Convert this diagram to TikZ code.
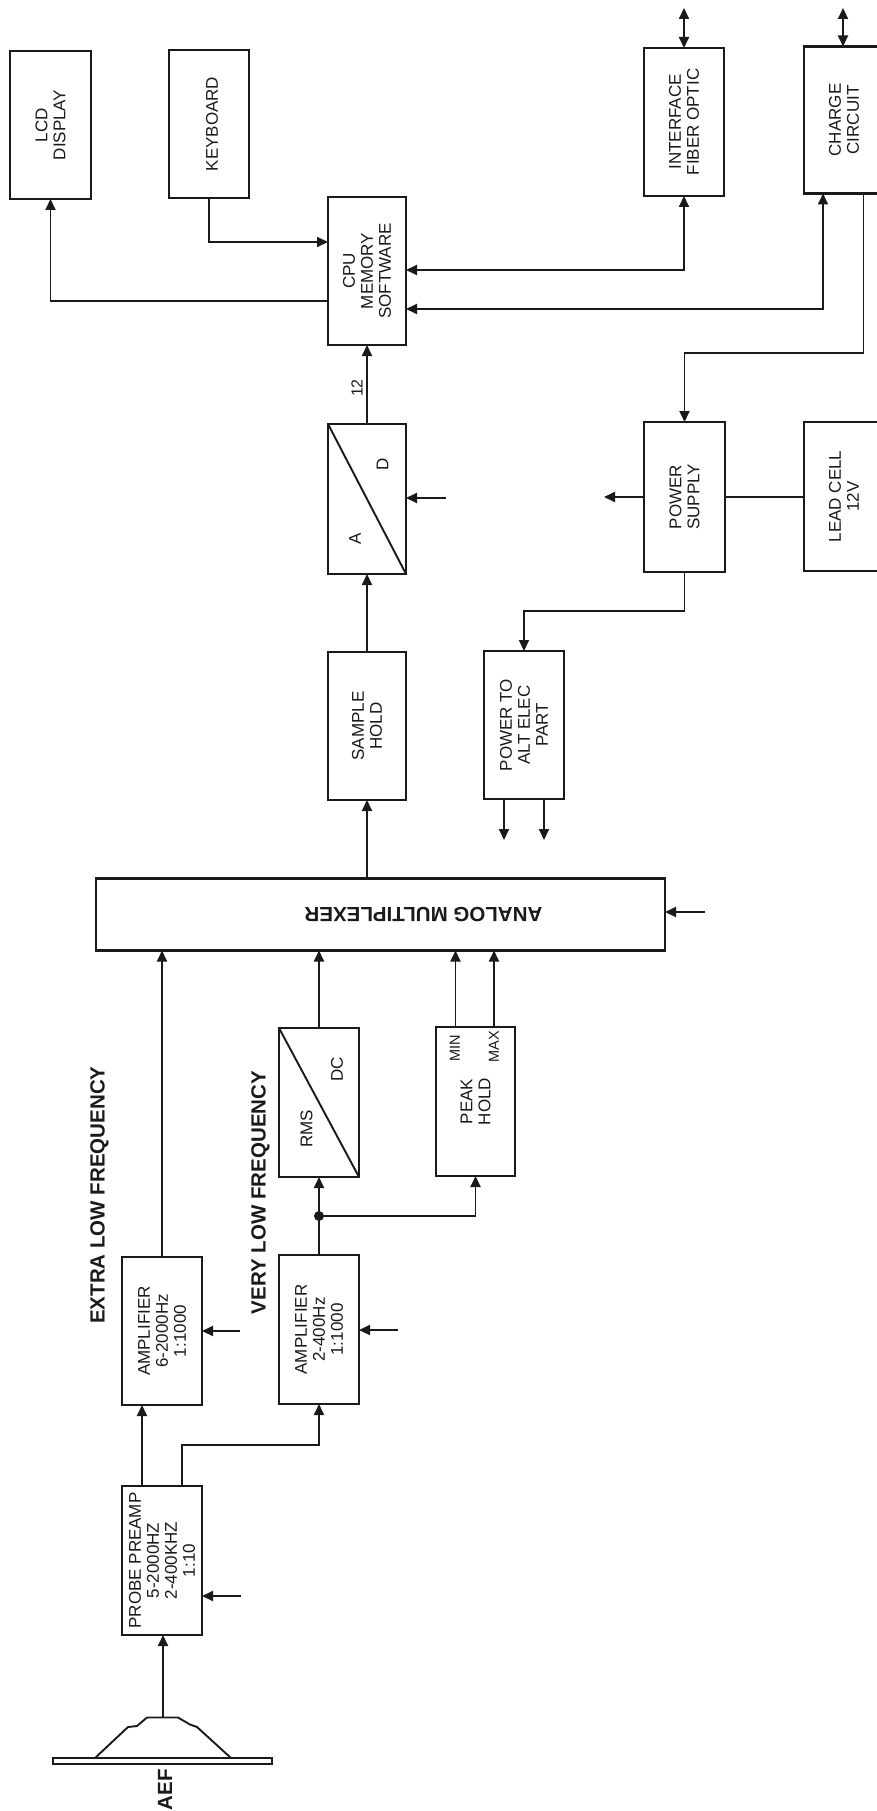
\documentclass[tikz,border=0pt]{standalone}
\usepackage{fontspec}
\setmainfont{Liberation Sans}
\usetikzlibrary{arrows.meta}
\definecolor{ink}{HTML}{1A1A1A}
\tikzset{
  x=1pt, y=-1pt,
  txt/.style={text=ink, font=\fontsize{17}{18}\selectfont, inner sep=0pt, outer sep=0pt, align=center},
  vbox/.style 2 args={txt, draw=ink, line width=2.2pt, rotate=90, minimum width=#2, minimum height=#1,
    execute at begin node={\rule{0pt}{18pt}}},
  lbl/.style={txt, rotate=90},
  boldlbl/.style={txt, rotate=90, font=\fontsize{20.5}{22}\bfseries\selectfont},
  conn/.style={draw=ink, line width=1.9pt},
  arr/.style={conn, -{Triangle[width=10pt,length=11pt]}},
  biarr/.style={conn, {Triangle[width=10pt,length=11pt]}-{Triangle[width=10pt,length=11pt]}},
  jdot/.style={circle, fill=ink, inner sep=0pt, minimum size=10pt},
}
\begin{document}
\begin{tikzpicture}
\clip (0,0) rectangle (877,1811);
\fill[white] (0,0) rectangle (877,1811);

% blocks (rotated 90: north=page left, south=page right, east=page top, west=page bottom)
\node[vbox={81}{148}] (lcd) at (50.5,125) {LCD\\DISPLAY};
\node[vbox={80}{148}] (keyboard) at (209,124) {KEYBOARD};
\node[vbox={78}{148}] (cpu) at (367,271) {CPU\\MEMORY\\SOFTWARE};
\node[vbox={80}{148}] (interface) at (684,122) {INTERFACE\\FIBER OPTIC};
\node[vbox={80}{147}] (charge) at (844,120) {CHARGE\\CIRCUIT};
\node[vbox={78}{150}] (ad) at (367,499) {};
\node[vbox={78}{148}] (sample) at (367,726) {SAMPLE\\HOLD};
\node[vbox={81}{150}] (power) at (684.5,497) {POWER\\SUPPLY};
\node[vbox={80}{149}] (lead) at (844,496.5) {LEAD CELL\\12V};
\node[vbox={80}{148}] (powerto) at (524,725) {POWER TO\\ALT ELEC\\PART};
\node[vbox={80}{149}] (rms) at (319,1102.5) {};
\node[vbox={79}{149}] (peak) at (475.5,1101.5) {PEAK\\HOLD};
\node[vbox={80}{148}] (ampel) at (162,1331) {AMPLIFIER\\6-2000Hz\\1:1000};
\node[vbox={80}{149}] (ampvl) at (319,1329.5) {AMPLIFIER\\2-400Hz\\1:1000};
\node[vbox={80}{149}] (preamp) at (162,1560.5) {PROBE PREAMP\\5-2000HZ\\2-400KHZ\\1:10};

% multiplexer (rotated 180: north=page bottom, south=page top, west=page right)
\node[txt, draw=ink, line width=2.2pt, rotate=180, minimum width=569, minimum height=72,
      font=\fontsize{20.5}{22}\bfseries\selectfont] (mux) at (380.5,914.5) {ANALOG MULTIPLEXER\hspace*{86pt}};

% inner labels
\draw[conn] (ad.north east) -- (ad.south west);
\draw[conn] (rms.north east) -- (rms.south west);
\node[lbl] (dlabel) at (382.5,464) {D};
\node[lbl] (alabel) at (355,539) {A};
\node[lbl] (dclabel) at (337,1069) {DC};
\node[lbl] (rmslabel) at (306.5,1129) {RMS};
\node[lbl, font=\fontsize{14.5}{16}\selectfont] (minlabel) at (455,1048) {MIN};
\node[lbl, font=\fontsize{14.5}{16}\selectfont] (maxlabel) at (494,1047) {MAX};
\node[lbl, font=\fontsize{16}{17}\selectfont] (twelve) at (357,388) {12};
\node[boldlbl] (extra) at (99.5,1195) {EXTRA LOW FREQUENCY};
\node[boldlbl] (very) at (260.5,1192.5) {VERY LOW FREQUENCY};
\node[boldlbl] (aef) at (165,1789.5) {AEF};

% AEF probe
\draw[ink, line width=1.6pt, fill=white] (53,1758) rectangle (272,1764);
\draw[ink, line width=1.9pt, line join=round] (95,1758) -- (128,1727) -- (137,1726) -- (147,1717.5) -- (178,1717.5) -- (190,1724.5) -- (197,1727) -- (231,1758);
\coordinate (aefout) at (163,1717);

% free ends
\coordinate (ctlpre) at (241,1596);
\coordinate (ctlel) at (240,1331);
\coordinate (ctlvl) at (398,1330);
\coordinate (ctlmux) at (705,912);
\coordinate (ctlad) at (446,498);
\coordinate (outpow) at (604,497);
\coordinate (outa) at (504,840);
\coordinate (outb) at (544,840);
\coordinate (ioint) at (684,8);
\coordinate (iochg) at (843,8);

% connectors
\draw[arr] (aefout) -- (aefout |- preamp.west);
\draw[arr] (142,0 |- preamp.east) -- (142,0 |- ampel.west);
\draw[arr] (182,0 |- preamp.east) -- (182,1445) -| (ampvl.west);
\draw[arr] (ampel.east) -- (ampel.east |- mux.north);
\node[jdot] (jn) at (319,1216) {};
\draw[conn] (ampvl.east) -- (jn.center);
\draw[arr] (jn.center) -- (rms.west);
\draw[arr] (jn.center) -| (peak.west);
\draw[arr] (rms.east) -- (rms.east |- mux.north);
\draw[arr] (455.5,0 |- peak.east) -- (455.5,0 |- mux.north);
\draw[arr] (494,0 |- peak.east) -- (494,0 |- mux.north);
\draw[arr] (sample.west |- mux.south) -- (sample.west);
\draw[arr] (sample.east) -- (ad.west);
\draw[arr] (ad.east) -- (cpu.west);
\draw[arr] (ctlpre) -- (ctlpre -| preamp.south);
\draw[arr] (ctlel) -- (ctlel -| ampel.south);
\draw[arr] (ctlvl) -- (ctlvl -| ampvl.south);
\draw[arr] (ctlmux) -- (ctlmux -| mux.west);
\draw[arr] (ctlad) -- (ctlad -| ad.south);
\draw[arr] (cpu.north |- 0,301) -| (lcd.west);
\draw[arr] (keyboard.west) |- (cpu.north |- 0,242);
\draw[biarr] (interface.west) |- (cpu.south |- 0,270);
\draw[biarr] (823,0 |- charge.west) |- (cpu.south |- 0,309);
\draw[arr] (863.5,0 |- charge.west) -- (863.5,353) -| (power.east);
\draw[biarr] (interface.east) -- (ioint);
\draw[biarr] (iochg |- charge.east) -- (iochg);
\draw[conn] (power.south) -- (power.south -| lead.north);
\draw[arr] (power.north) -- (outpow);
\draw[arr] (power.west) -- (684.5,611) -| (powerto.east);
\draw[arr] (outa |- powerto.west) -- (outa);
\draw[arr] (outb |- powerto.west) -- (outb);
\end{tikzpicture}
\end{document}
